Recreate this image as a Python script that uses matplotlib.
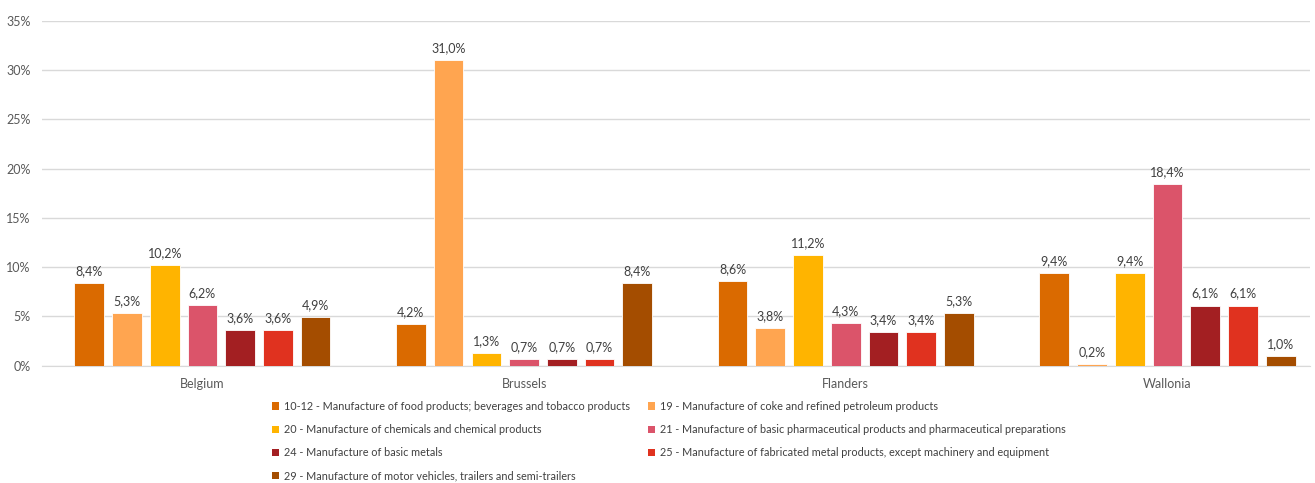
import numpy as np
import matplotlib.pyplot as plt
from matplotlib.patches import Patch

regions = ["Belgium", "Brussels", "Flanders", "Wallonia"]
sectors = [
    "10-12 - Manufacture of food products; beverages and tobacco products",
    "19 - Manufacture of coke and refined petroleum products",
    "20 - Manufacture of chemicals and chemical products",
    "21 - Manufacture of basic pharmaceutical products and pharmaceutical preparations",
    "24 - Manufacture of basic metals",
    "25 - Manufacture of fabricated metal products, except machinery and equipment",
    "29 - Manufacture of motor vehicles, trailers and semi-trailers",
]
# share (%) per sector, one list per sector, in region order
food = [8.4, 4.2, 8.6, 9.4]
coke = [5.3, 31.0, 3.8, 0.2]
chemicals = [10.2, 1.3, 11.2, 9.4]
pharma = [6.2, 0.7, 4.3, 18.4]
basic_metals = [3.6, 0.7, 3.4, 6.1]
fab_metals = [3.6, 0.7, 3.4, 6.1]
vehicles = [4.9, 8.4, 5.3, 1.0]
series = [food, coke, chemicals, pharma, basic_metals, fab_metals, vehicles]

colors = ["#DA6A00", "#FFA550", "#FFB400", "#DB546A", "#A31F22", "#E0321F", "#A44D00"]

plt.rcParams['font.family'] = ['Lato', 'DejaVu Sans']

fig = plt.figure(figsize=(13.15, 4.83), dpi=100)
ax = fig.add_axes([0.0316, 0.2429, 0.9646, 0.7142])

x = np.arange(len(regions))
slot = 0.1173
width = 0.0923
for i, (vals, c) in enumerate(zip(series, colors)):
    pos = x + (i - 3) * slot
    bars = ax.bar(pos, vals, width=width, color=c, edgecolor="white", linewidth=0.6, zorder=3)
    for b, v in zip(bars, vals):
        ax.text(b.get_x() + b.get_width() / 2, v + 0.6, f"{v:.1f}%".replace(".", ","),
                ha="center", va="bottom", fontsize=9, color="#404040")

ax.set_xlim(-0.5, 3.443)
ax.set_ylim(0, 35)
ax.set_yticks(np.arange(0, 36, 5))
ax.set_yticklabels([f"{t}%" for t in range(0, 36, 5)])
ax.set_xticks(x)
ax.set_xticklabels(regions)
ax.grid(axis="y", color="#D9D9D9", linewidth=1, zorder=0)
for s in ["top", "right", "left"]:
    ax.spines[s].set_visible(False)
ax.spines["bottom"].set_color("#D9D9D9")
ax.tick_params(axis="both", length=0, labelsize=9, labelcolor="#595959")
ax.tick_params(axis="x", pad=9)
ax.tick_params(axis="y", pad=8)

handles = [Patch(facecolor=c, edgecolor="none") for c in colors]
order = [0, 2, 4, 6, 1, 3, 5]
fig.legend([handles[i] for i in order], [sectors[i] for i in order],
           ncol=2, loc="upper left", bbox_to_anchor=(0.2068, 0.170), frameon=False,
           fontsize=7.8, handlelength=0.65, handleheight=0.65, handletextpad=0.45,
           labelspacing=1.13, columnspacing=1.65, labelcolor="#404040",
           borderpad=0, borderaxespad=0)

fig.savefig("out.png", dpi=100)
